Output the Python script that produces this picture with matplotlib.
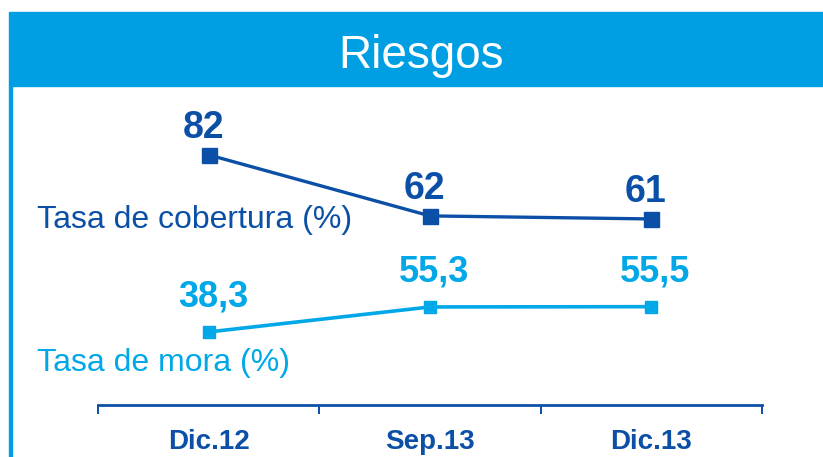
#!/usr/bin/env python3
"""
Riesgos panel: coverage ratio and NPL ratio across three quarters.
"""

import matplotlib
matplotlib.use("Agg")
import matplotlib.pyplot as plt
from matplotlib.patches import Rectangle

# ============================================================================
# Data
# ============================================================================

periods = ["Dic.12", "Sep.13", "Dic.13"]

cobertura = [82, 62, 61]          # Tasa de cobertura (%)
cobertura_labels = ["82", "62", "61"]

mora = [38.3, 55.3, 55.5]         # Tasa de mora (%)
mora_labels = ["38,3", "55,3", "55,5"]

title = "Riesgos"
label_cobertura = "Tasa de cobertura (%)"
label_mora = "Tasa de mora (%)"

# ============================================================================
# Style
# ============================================================================

DARK = "#0B4FA6"
LIGHT = "#00A8E8"
BANNER = "#009FE3"

plt.rcParams["font.family"] = ["Liberation Sans", "DejaVu Sans"]

W, H = 823, 457
DPI = 100


def px_rect(x0, y0, x1, y1):
    """Figure-fraction rect from pixel box (y measured from the top)."""
    return [x0 / W, 1 - y1 / H, (x1 - x0) / W, (y1 - y0) / H]


fig = plt.figure(figsize=(W / DPI, H / DPI), dpi=DPI)

# Banner + left border
fig.patches.append(Rectangle((9 / W, 1 - 86 / H), 1 - 9 / W, 74 / H,
                             transform=fig.transFigure, color=BANNER, zorder=0))
fig.patches.append(Rectangle((9 / W, 0), 2.5 / W, 1 - 86 / H,
                             transform=fig.transFigure, color=BANNER, zorder=0))
fig.text(421 / W, 1 - 68 / H, title, color="white", fontsize=33,
         ha="center", va="baseline")

# Main axes (dark series) and twin (light series)
ax = fig.add_axes(px_rect(98, 100, 762, 405))
ax2 = ax.twinx()

x = list(range(len(periods)))

ax.plot(x, cobertura, color=DARK, lw=2.4, marker="s", ms=10.8, zorder=3)
for xi, yi, s in zip(x, cobertura, cobertura_labels):
    ax.annotate(s, (xi, yi), xytext=(-4, 12), textcoords="offset points",
                ha="center", va="baseline", fontsize=27, fontweight="bold",
                color=DARK)

ax2.plot(x, mora, color=LIGHT, lw=2.6, marker="s", ms=8.3, zorder=3)
for xi, yi, s in zip(x, mora, mora_labels):
    ax2.annotate(s, (xi, yi), xytext=(3, 18), textcoords="offset points",
                 ha="center", va="baseline", fontsize=26, fontweight="bold",
                 color=LIGHT)

ax.set_xlim(-0.5, len(periods) - 0.5)
ax.set_ylim(0, 100)
ax2.set_ylim(-11.4, 196.1)

# Category axis: boundary ticks, labels centred
for a in (ax, ax2):
    for side in ("top", "right", "left"):
        a.spines[side].set_visible(False)
    a.set_yticks([])
ax2.spines["bottom"].set_visible(False)
ax.spines["bottom"].set_color(DARK)
ax.spines["bottom"].set_linewidth(2)

ax.set_xticks([i - 0.5 for i in range(len(periods) + 1)])
ax.set_xticklabels([])
ax.tick_params(axis="x", direction="out", length=6.5, width=1.4, color=DARK)
ax.set_xticks(x, minor=True)
ax.set_xticklabels(periods, minor=True, fontsize=20, fontweight="bold",
                   color=DARK)
ax.tick_params(axis="x", which="minor", length=0, pad=17)

# Series names
fig.text(37 / W, 1 - 228 / H, label_cobertura, color=DARK, fontsize=23,
         ha="left", va="baseline")
fig.text(37 / W, 1 - 371 / H, label_mora, color=LIGHT, fontsize=23,
         ha="left", va="baseline")

fig.savefig("out.png", dpi=DPI)
